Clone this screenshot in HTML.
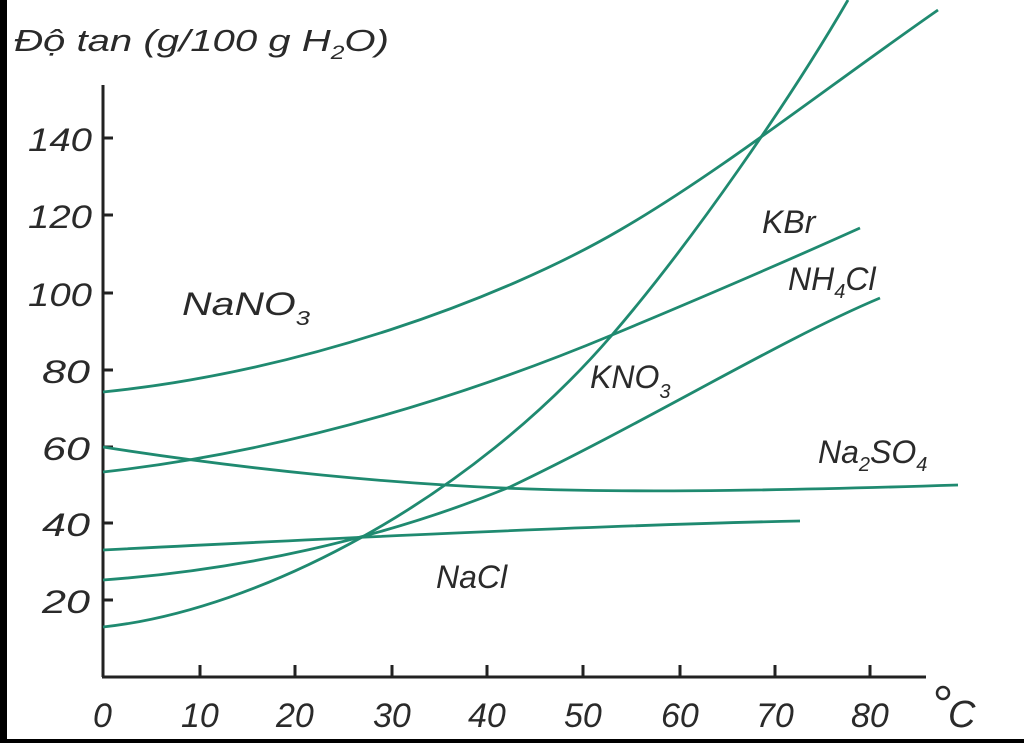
<!DOCTYPE html>
<html><head><meta charset="utf-8"><style>
body{margin:0;background:#fff;}
svg{display:block}
text{font-family:"Liberation Sans",sans-serif;font-style:italic;fill:#2a2a2a}
</style></head><body>
<svg width="1024" height="743" viewBox="0 0 1024 743">
<rect width="1024" height="743" fill="#fff"/>
<rect x="0" y="0" width="7" height="743" fill="#000"/>
<rect x="0" y="739" width="1024" height="4" fill="#000"/>
<g stroke="#222" stroke-width="3" fill="none">
<line x1="103" y1="85" x2="103" y2="677"/>
<line x1="102" y1="677" x2="926" y2="677"/>
<path d="M103 138h10M103 215h10M103 293h10M103 370h10M103 447h10M103 523h10M103 600h10"/>
<path d="M200 677v-12M295 677v-12M392 677v-12M487 677v-12M583 677v-12M680 677v-12M775 677v-12M870 677v-12"/>
</g>
<g font-size="32">
<text x="14" y="51" font-size="31" textLength="375" lengthAdjust="spacingAndGlyphs">Độ tan (g/100 g H<tspan font-size="19" dy="8">2</tspan><tspan dy="-8">O)</tspan></text>
<text x="28" y="151" textLength="64" lengthAdjust="spacingAndGlyphs">140</text>
<text x="28" y="228" textLength="64" lengthAdjust="spacingAndGlyphs">120</text>
<text x="28" y="306" textLength="64" lengthAdjust="spacingAndGlyphs">100</text>
<text x="42" y="383" textLength="48" lengthAdjust="spacingAndGlyphs">80</text>
<text x="42" y="460" textLength="48" lengthAdjust="spacingAndGlyphs">60</text>
<text x="42" y="536" textLength="48" lengthAdjust="spacingAndGlyphs">40</text>
<text x="42" y="613" textLength="48" lengthAdjust="spacingAndGlyphs">20</text>
<g font-size="34">
<text x="93" y="727">0</text><text x="181" y="727">10</text><text x="276" y="727">20</text><text x="373" y="727">30</text>
<text x="468" y="727">40</text><text x="564" y="727">50</text><text x="661" y="727">60</text><text x="756" y="727">70</text><text x="851" y="727">80</text>
</g>
<circle cx="943" cy="693" r="6" fill="none" stroke="#2a2a2a" stroke-width="2.5"/>
<text x="948" y="727" font-size="38">C</text>
<text x="182" y="315" textLength="128" lengthAdjust="spacingAndGlyphs">NaNO<tspan font-size="20" dy="10">3</tspan></text>
<text x="762" y="233">KBr</text>
<text x="788" y="290">NH<tspan font-size="20" dy="8">4</tspan><tspan dy="-8">Cl</tspan></text>
<text x="590" y="388">KNO<tspan font-size="20" dy="10">3</tspan></text>
<text x="818" y="463">Na<tspan font-size="20" dy="8">2</tspan><tspan dy="-8">SO</tspan><tspan font-size="20" dy="8">4</tspan></text>
<text x="436" y="588">NaCl</text>
</g>
<g stroke="#1f8a70" stroke-width="2.8" fill="none">
<path d="M103 392 C300 372 500 300 620 230 C720 172 830 85 938 10"/>
<path d="M103 472 C300 450 480 390 612 335 C720 290 800 255 860 228"/>
<path d="M103 627 C260 610 470 500 612 335 C692 242 790 100 848 0"/>
<path d="M103 580 C240 570 380 540 510 487 C650 420 780 340 880 298"/>
<path d="M103 447 C250 470 400 485 530 489 C650 493 800 490 958 485"/>
<path d="M103 550 C300 540 600 525 800 521"/>
</g>
</svg>
</body></html>
